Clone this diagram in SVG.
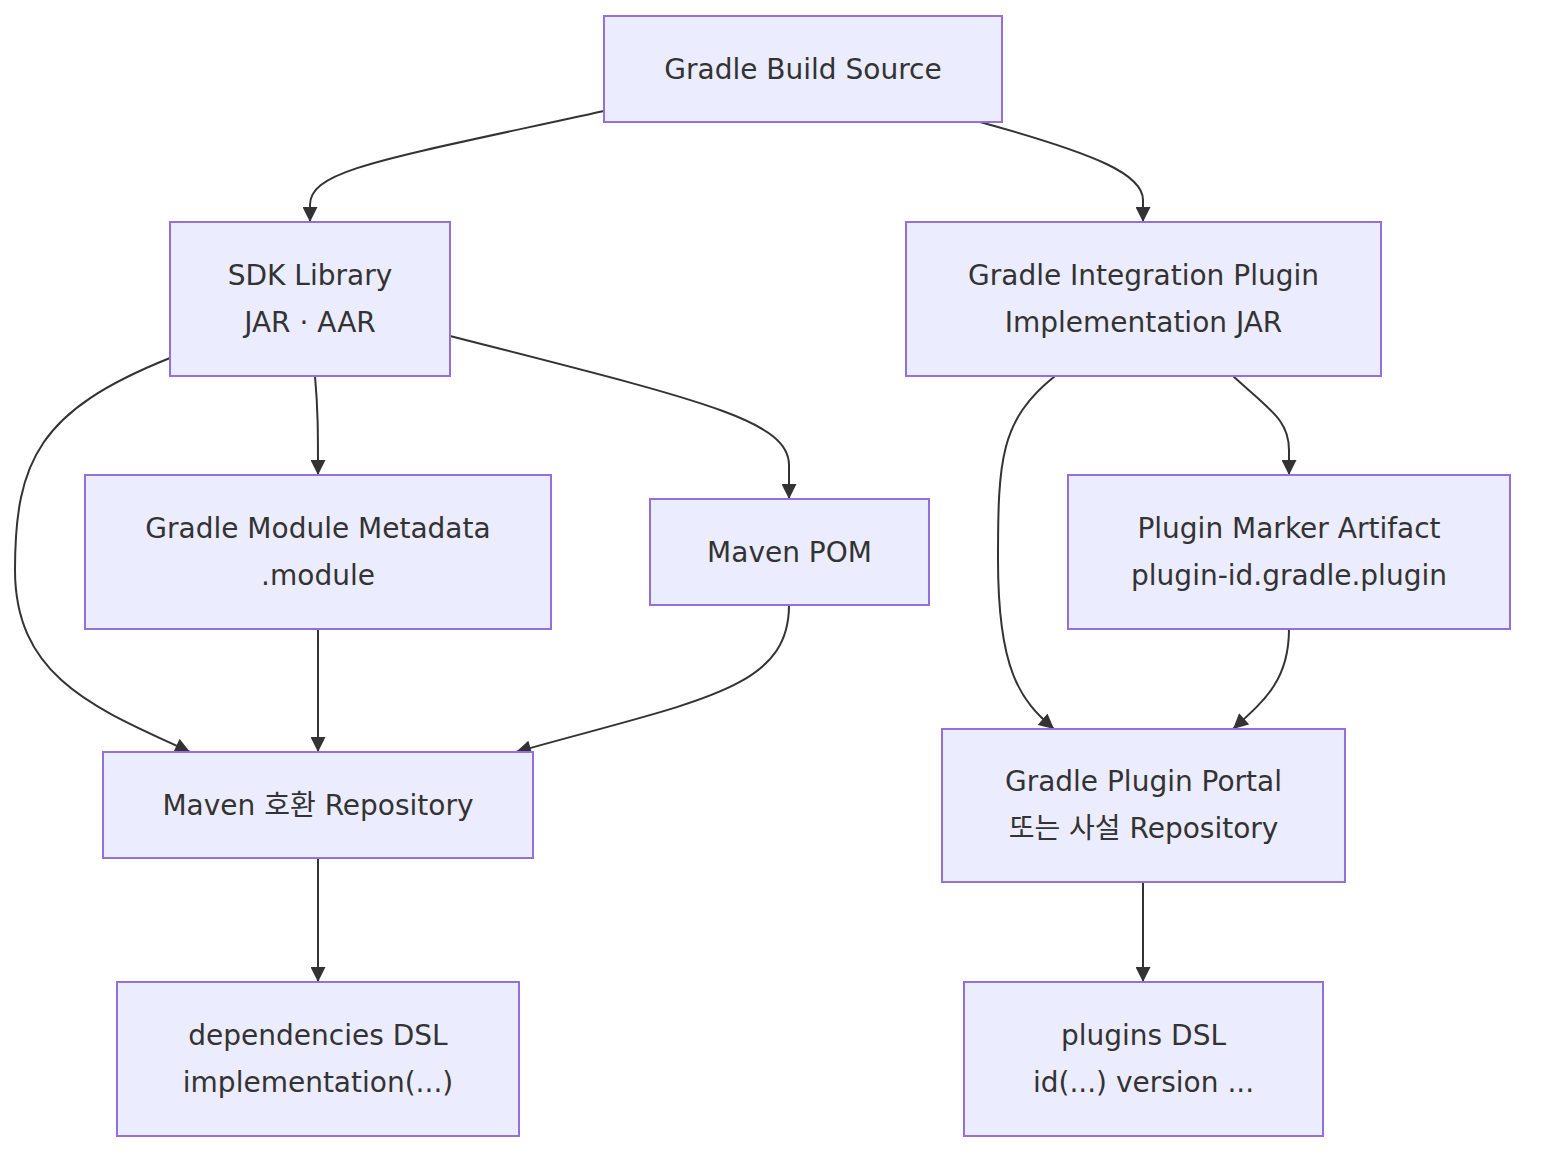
<svg xmlns="http://www.w3.org/2000/svg" width="1542" height="1164" viewBox="0 0 1542 1164">
<style>
.node rect{fill:#ECECFF;stroke:#9370DB;stroke-width:2}
.node text{font-family:"DejaVu Sans","Noto Sans CJK KR",sans-serif;font-size:28px;fill:#333;text-anchor:middle;dominant-baseline:central}
.edges path{fill:none;stroke:#333;stroke-width:2;marker-end:url(#arr)}
</style>
<defs>
<marker id="arr" viewBox="0 0 10 10" refX="10" refY="5" markerUnits="userSpaceOnUse" markerWidth="16" markerHeight="15" orient="auto">
<path d="M0,0 L10,5 L0,10 z" fill="#333"/>
</marker>
</defs>
<rect width="1542" height="1164" fill="#fff"/>
<g class="edges">
<path d="M604,111 C380,160 310,170 310,205 L310,222"/>
<path d="M980,122 C1100,155 1143,175 1143,200 L1143,222"/>
<path d="M170,358 C40,410 15,460 15,570 C15,680 100,710 190,752"/>
<path d="M315,376 C318,410 318,430 318,475"/>
<path d="M450,336 C700,400 789,420 789,465 L789,499"/>
<path d="M1055,376 C1000,420 998,460 998,560 C998,670 1020,700 1054,729"/>
<path d="M1233,376 C1270,410 1289,420 1289,450 L1289,475"/>
<path d="M318,629 L318,752"/>
<path d="M789,605 C789,690 700,700 516,752"/>
<path d="M1289,629 C1289,680 1265,700 1233,729"/>
<path d="M318,858 L318,982"/>
<path d="M1143,882 L1143,982"/>
</g>
<g id="n1" class="node"><rect x="604" y="16" width="398" height="106"/><text x="803" y="69">Gradle Build Source</text></g>
<g id="n2" class="node"><rect x="170" y="222" width="280" height="154"/><text x="310" y="275">SDK Library</text><text x="310" y="322">JAR · AAR</text></g>
<g id="n3" class="node"><rect x="906" y="222" width="475" height="154"/><text x="1143.5" y="275">Gradle Integration Plugin</text><text x="1143.5" y="322">Implementation JAR</text></g>
<g id="n4" class="node"><rect x="85" y="475" width="466" height="154"/><text x="318" y="528">Gradle Module Metadata</text><text x="318" y="575">.module</text></g>
<g id="n5" class="node"><rect x="650" y="499" width="279" height="106"/><text x="789.5" y="552">Maven POM</text></g>
<g id="n6" class="node"><rect x="1068" y="475" width="442" height="154"/><text x="1289" y="528">Plugin Marker Artifact</text><text x="1289" y="575">plugin-id.gradle.plugin</text></g>
<g id="n7" class="node"><rect x="103" y="752" width="430" height="106"/><text x="318" y="805">Maven 호환 Repository</text></g>
<g id="n8" class="node"><rect x="942" y="729" width="403" height="153"/><text x="1143.5" y="781">Gradle Plugin Portal</text><text x="1143.5" y="828">또는 사설 Repository</text></g>
<g id="n9" class="node"><rect x="117" y="982" width="402" height="154"/><text x="318" y="1035">dependencies DSL</text><text x="318" y="1082">implementation(...)</text></g>
<g id="n10" class="node"><rect x="964" y="982" width="359" height="154"/><text x="1143.5" y="1035">plugins DSL</text><text x="1143.5" y="1082">id(...) version ...</text></g>
</svg>
